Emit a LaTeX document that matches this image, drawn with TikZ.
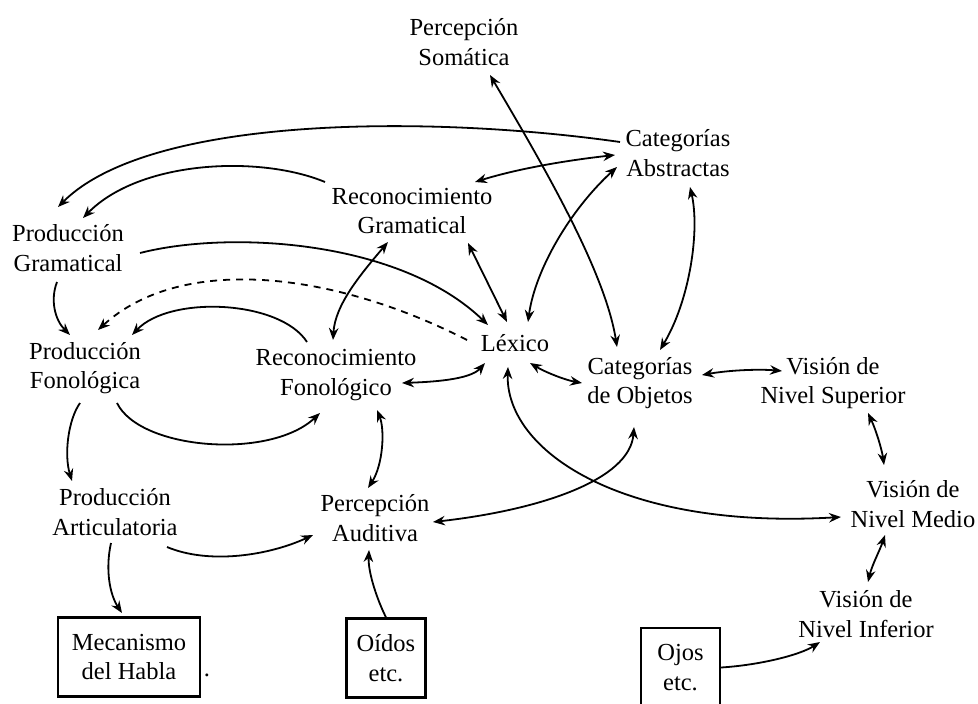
\documentclass[tikz,border=0pt]{standalone}
\usepackage{fontspec}
\setmainfont{Liberation Serif}
\usetikzlibrary{arrows.meta,calc}
\begin{document}
\begin{tikzpicture}[x=1pt,y=-1pt,
  lbl/.style={align=center,font=\fontsize{24.5}{29.5}\selectfont,inner sep=0pt},
  boxn/.style={lbl,draw,line width=2.2pt},
  conn/.style={line width=1.8pt},
  tip/.style={-{Stealth[length=12pt,width=9.5pt,inset=4pt]}},
  tips/.style={{Stealth[length=12pt,width=9.5pt,inset=4pt]}-{Stealth[length=12pt,width=9.5pt,inset=4pt]}},
  dashln/.style={dash pattern=on 7pt off 6pt}]
\useasboundingbox (0,0) rectangle (978,704);
% nodes
\node[lbl] (som)   at (464,42)  {Percepción\\Somática};
\node[lbl] (cabs)  at (678,153) {Categorías\\Abstractas};
\node[lbl] (rgram) at (412,211) {Reconocimiento\\Gramatical};
\node[lbl] (pgram) at (68,248)  {Producción\\Gramatical};
\node[lbl] (lex)   at (515,343) {Léxico};
\node[lbl] (pfon)  at (85,368)  {Producción\\Fonológica};
\node[lbl] (rfon)  at (336,375) {Reconocimiento\\Fonológico};
\node[lbl] (cobj)  at (640,383) {Categorías\\de Objetos};
\node[lbl] (vsup)  at (833,383) {Visión de\\Nivel Superior};
\node[lbl] (part)  at (115,512) {Producción\\Articulatoria};
\node[lbl] (paud)  at (375,518) {Percepción\\Auditiva};
\node[lbl] (vmed)  at (913,504) {Visión de\\Nivel Medio};
\node[lbl] (vinf)  at (866,614) {Visión de\\Nivel Inferior};
\node[boxn,minimum width=142pt,minimum height=79pt] (mec) at (129,657) {Mecanismo\\del Habla};
\node[lbl] (dot) at (207,675) {.};
\node[boxn,minimum width=79pt,minimum height=79pt] (oid) at (386,658) {Oídos\\etc.};
\node[boxn,minimum width=79pt,minimum height=79pt] (ojos) at (680.5,667.5) {Ojos\\etc.};
% connectors
\draw[conn,tip] ($(cabs)+(-58,-11)$) .. controls (430,115) and (150,115) .. ($(pgram)+(-10,-41)$);
\draw[conn,tip] ($(rgram)+(-87,-29)$) .. controls (260,155) and (140,160) .. ($(pgram)+(15,-30)$);
\draw[conn,tips] ($(rgram)+(63,-29)$) .. controls (520,168) and (570,160) .. ($(cabs)+(-63,2)$);
\draw[conn,tip] ($(pgram)+(72,5)$) .. controls (230,230) and (400,240) .. ($(lex)+(-27,-18)$);
\draw[conn,tip] ($(pgram)+(-11,34)$) .. controls (50,300) and (55,320) .. ($(pfon)+(-15,-33)$);
\draw[conn,tip,dashln] ($(lex)+(-48,-3)$) .. controls (330,270) and (180,255) .. ($(pfon)+(13,-38)$);
\draw[conn,tip] ($(rfon)+(-29,-33)$) .. controls (280,300) and (170,295) .. ($(pfon)+(47,-33)$);
\draw[conn,tips] ($(rgram)+(-24,31)$) .. controls (360,275) and (335,305) .. ($(rfon)+(-3,-35)$);
\draw[conn,tips] ($(rgram)+(56,32)$) -- ($(lex)+(-8,-21)$);
\draw[conn,tips] ($(lex)+(13,-21)$) .. controls (535,270) and (570,210) .. ($(cabs)+(-61,14)$);
\draw[conn,tips] ($(som)+(26,33)$) .. controls (540,160) and (605,270) .. ($(cobj)+(-23,-36)$);
\draw[conn,tips] ($(cabs)+(12,34)$) .. controls (700,230) and (690,300) .. ($(cobj)+(20,-33)$);
\draw[conn,tip] ($(pfon)+(32,35)$) .. controls (140,450) and (270,460) .. ($(rfon)+(-16,38)$);
\draw[conn,tips] ($(rfon)+(66,8)$) .. controls (430,382) and (470,380) .. ($(lex)+(-30,20)$);
\draw[conn,tips] ($(lex)+(15,20)$) .. controls (545,372) and (565,380) .. ($(cobj)+(-58,0)$);
\draw[conn,tips] ($(cobj)+(62,-8)$) .. controls (730,370) and (760,369) .. ($(vsup)+(-51,-12)$);
\draw[conn,tip] ($(pfon)+(-5,35)$) .. controls (68,420) and (64,455) .. ($(part)+(-43,-31)$);
\draw[conn,tips] ($(rfon)+(41,35)$) .. controls (385,430) and (383,465) .. ($(paud)+(-7,-30)$);
\draw[conn,tip] ($(part)+(52,35)$) .. controls (210,565) and (270,555) .. ($(paud)+(-62,17)$);
\draw[conn,tip] ($(part)+(-4,31)$) .. controls (105,570) and (110,595) .. ($(mec)+(-7,-44)$);
\draw[conn,tip] (oid.north) .. controls (375,595) and (368,570) .. ($(paud)+(-6,32)$);
\draw[conn,tips] ($(paud)+(58,4)$) .. controls (540,510) and (630,480) .. ($(cobj)+(-6,44)$);
\draw[conn,tips] ($(lex)+(-7,24)$) .. controls (505,450) and (620,530) .. ($(vmed)+(-72,13)$);
\draw[conn,tips] ($(vsup)+(35,30)$) .. controls (876,430) and (882,450) .. ($(vmed)+(-29,-39)$);
\draw[conn,tips] ($(vmed)+(-28,31)$) .. controls (880,550) and (872,565) .. ($(vinf)+(2,-32)$);
\draw[conn,tip] (ojos.east) .. controls (760,665) and (800,655) .. ($(vinf)+(-46,28)$);
\end{tikzpicture}
\end{document}
